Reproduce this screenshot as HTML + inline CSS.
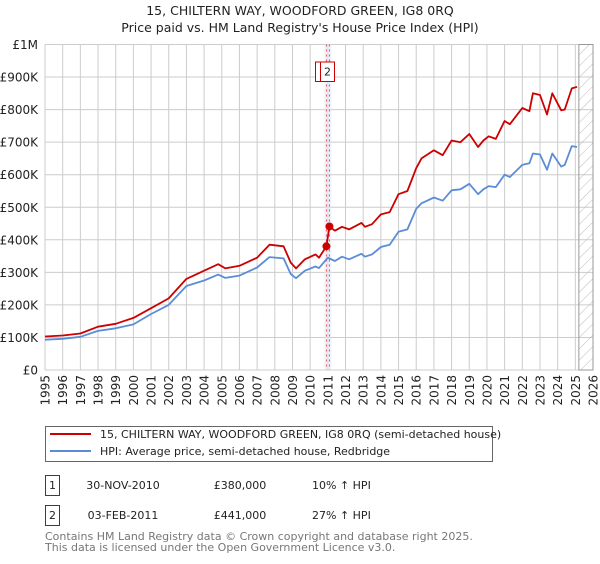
<!DOCTYPE html>
<html><head><meta charset="utf-8"><style>
body{margin:0;background:#fff;width:600px;height:560px;overflow:hidden;font-family:"DejaVu Sans","Liberation Sans",sans-serif;}
svg text{font-family:"DejaVu Sans","Liberation Sans",sans-serif;}
</style></head><body>
<svg id="chart" width="600" height="560" xmlns="http://www.w3.org/2000/svg">
<text x="300" y="15" font-size="12.5" text-anchor="middle" fill="#222">15, CHILTERN WAY, WOODFORD GREEN, IG8 0RQ</text>
<text x="300" y="32" font-size="12.5" text-anchor="middle" fill="#222">Price paid vs. HM Land Registry's House Price Index (HPI)</text>
<g id="grid"></g>
<g id="marks"></g>
<g id="axes"></g>

<rect x="45.5" y="426.5" width="447" height="35" fill="#fff" stroke="#666"/>
<line x1="50" y1="434" x2="91" y2="434" stroke="#cc0000" stroke-width="2"/>
<text x="100" y="438" font-size="11" fill="#222">15, CHILTERN WAY, WOODFORD GREEN, IG8 0RQ (semi-detached house)</text>
<line x1="50" y1="451" x2="91" y2="451" stroke="#5b8dd6" stroke-width="2"/>
<text x="100" y="455" font-size="11" fill="#222">HPI: Average price, semi-detached house, Redbridge</text>

<rect x="45.5" y="475.5" width="14" height="20" fill="#fff" stroke="#cc0000"/>
<text x="52.5" y="489" font-size="11" text-anchor="middle" fill="#222">1</text>
<text x="123" y="489" font-size="11" text-anchor="middle" fill="#222">30-NOV-2010</text>
<text x="240" y="489" font-size="11" text-anchor="middle" fill="#222">£380,000</text>
<text x="312" y="489" font-size="11" fill="#222">10% ↑ HPI</text>
<rect x="45.5" y="505.5" width="14" height="20" fill="#fff" stroke="#cc0000"/>
<text x="52.5" y="519" font-size="11" text-anchor="middle" fill="#222">2</text>
<text x="123" y="519" font-size="11" text-anchor="middle" fill="#222">03-FEB-2011</text>
<text x="240" y="519" font-size="11" text-anchor="middle" fill="#222">£441,000</text>
<text x="312" y="519" font-size="11" fill="#222">27% ↑ HPI</text>
<text x="45" y="540" font-size="11" fill="#777">Contains HM Land Registry data © Crown copyright and database right 2025.</text>
<text x="45" y="551" font-size="11" fill="#777">This data is licensed under the Open Government Licence v3.0.</text>
</svg>
<script>
const years=[1995,1996,1997,1998,1999,2000,2001,2002,2003,2004,2005,2006,2007,2008,2009,2010,2011,2012,2013,2014,2015,2016,2017,2018,2019,2020,2021,2022,2023,2024,2025,2026];
const yTicks=[0,100,200,300,400,500,600,700,800,900,1000];
const yTickLabels=["£0","£100K","£200K","£300K","£400K","£500K","£600K","£700K","£800K","£900K","£1M"];
const priceT=[1995,1996,1997,1998,1999,2000,2001,2002,2003,2004,2004.8,2005.2,2006,2007,2007.7,2008.5,2008.9,2009.2,2009.7,2010.3,2010.5,2010.92,2011.09,2011.4,2011.8,2012.2,2012.9,2013.1,2013.5,2014,2014.5,2015,2015.5,2016,2016.3,2017,2017.5,2018,2018.5,2019,2019.5,2019.8,2020.1,2020.5,2021,2021.3,2022,2022.4,2022.6,2023,2023.4,2023.7,2024.2,2024.4,2024.8,2025.1];
const priceV=[103,106,112,133,142,160,190,220,280,305,325,312,320,345,385,380,330,312,340,355,345,380,441,428,440,432,452,440,448,478,485,540,550,620,650,675,660,705,700,725,685,705,718,710,765,755,805,795,850,845,785,850,798,800,865,870];
const hpiT=[1995,1996,1997,1998,1999,2000,2001,2002,2003,2004,2004.8,2005.2,2006,2007,2007.7,2008.5,2008.9,2009.2,2009.7,2010.3,2010.5,2011,2011.4,2011.8,2012.2,2012.9,2013.1,2013.5,2014,2014.5,2015,2015.5,2016,2016.3,2017,2017.5,2018,2018.5,2019,2019.5,2019.8,2020.1,2020.5,2021,2021.3,2022,2022.4,2022.6,2023,2023.4,2023.7,2024.2,2024.4,2024.8,2025.1];
const hpiV=[93,96,102,120,128,140,172,200,258,275,293,283,290,315,347,343,295,282,305,318,313,345,335,348,340,357,348,355,378,385,425,432,495,512,530,520,552,555,572,540,555,565,562,600,593,630,635,665,662,615,665,625,630,688,685];
const salesT=[2010.92,2011.09];
const salesV=[380,441];
const salesLabel=["1","2"];
const dataEnd=2025.2;

const NS="http://www.w3.org/2000/svg";
const X0=45,X1=593,Y0=370,Y1=44.5;
const xs=t=>X0+(t-1995)*(X1-X0)/31;
const ys=v=>Y0-v*(Y0-Y1)/1000;
function mk(tag,attrs,parent){const e=document.createElementNS(NS,tag);for(const k in attrs)e.setAttribute(k,attrs[k]);parent.appendChild(e);return e;}
const grid=document.getElementById('grid'),marks=document.getElementById('marks'),axes=document.getElementById('axes');
years.forEach(y=>{const l=mk('line',{x1:xs(y),x2:xs(y),y1:Y1,y2:Y0,stroke:'#ccc','stroke-width':1},grid);


const t=mk('text',{x:0,y:0,'font-size':12,fill:'#222','text-anchor':'end',transform:`translate(${xs(y)+4.5},${Y0+5}) rotate(-90)`},axes);
t.textContent=y;

});
yTicks.forEach((v,i)=>{const l=mk('line',{x1:X0,x2:X1,y1:ys(v),y2:ys(v),stroke:'#ccc','stroke-width':1},grid);


const t=mk('text',{x:38,y:ys(v)+4.5,'font-size':12,fill:'#222','text-anchor':'end'},axes);
t.textContent=yTickLabels[i];

});
const defs=mk('defs',{},marks);
const pat=mk('pattern',{id:'hatch',width:8,height:8,patternUnits:'userSpaceOnUse',patternTransform:'rotate(45)'},defs);
mk('line',{x1:0,y1:0,x2:0,y2:8,stroke:'#bbb','stroke-width':1},pat);
const hr=mk('rect',{x:xs(dataEnd),y:Y1,width:X1-xs(dataEnd),height:Y0-Y1,fill:'url(#hatch)',stroke:'#999'},marks);


salesT.forEach((t,i)=>{const b=mk('rect',{x:xs(t)-2,y:Y1,width:4,height:Y0-Y1,fill:'#dde6f5',opacity:0.5},marks);


const l=mk('line',{x1:xs(t),x2:xs(t),y1:Y1,y2:Y0,stroke:'#e55','stroke-width':1,'stroke-dasharray':'2,3'},marks);

});
function path(T,V,color,name){const d=T.map((t,i)=>(i?'L':'M')+xs(t).toFixed(1)+','+ys(V[i]).toFixed(1)).join('');
const p=mk('path',{d:d,fill:'none',stroke:color,'stroke-width':1.8,'stroke-linejoin':'round'},marks);

}
path(hpiT,hpiV,'#5b8dd6','hpi-line');
path(priceT,priceV,'#cc0000','price-line');
salesT.forEach((t,i)=>{const c=mk('circle',{cx:xs(t),cy:ys(salesV[i]),r:4,fill:'#cc0000'},marks);


const bx=i?320.5:315.5;
const r=mk('rect',{x:bx,y:62,width:14,height:19.5,fill:'#fff',stroke:'#cc0000'},marks);


const tx=mk('text',{x:bx+7,y:75.5,'font-size':11,'text-anchor':'middle',fill:'#222'},marks);
tx.textContent=salesLabel[i];

});
</script>
</body></html>
